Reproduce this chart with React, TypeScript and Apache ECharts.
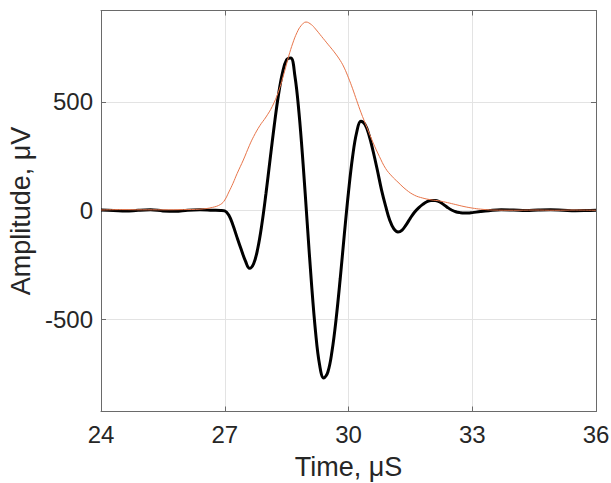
import React, { useEffect, useRef } from "react";
import * as echarts from "echarts";

const blackT = [24, 24.3, 24.6, 24.9, 25.2, 25.5, 25.8, 26.1, 26.4, 26.7, 26.9, 27.0, 27.1, 27.2, 27.3, 27.4, 27.5, 27.6, 27.7, 27.8, 27.9, 28.0, 28.1, 28.2, 28.3, 28.4, 28.5, 28.6, 28.7, 28.8, 28.9, 29.0, 29.1, 29.2, 29.3, 29.4, 29.5, 29.6, 29.7, 29.8, 29.9, 30.0, 30.1, 30.2, 30.3, 30.4, 30.5, 30.6, 30.7, 30.8, 30.9, 31.0, 31.1, 31.2, 31.3, 31.4, 31.5, 31.6, 31.7, 31.8, 31.9, 32.0, 32.1, 32.2, 32.3, 32.4, 32.5, 32.6, 32.7, 32.8, 32.9, 33.0, 33.2, 33.4, 33.7, 34.0, 34.3, 34.6, 34.9, 35.2, 35.5, 35.8, 36.0];
const blackV = [2, 0, -3, 1, 3, -2, -4, 1, 3, 1, 0, -2, -22, -68, -125, -180, -232, -266, -245, -175, -63, 79, 236, 391, 529, 633, 693, 701, 620, 449, 212, -60, -329, -556, -711, -771, -743, -648, -499, -312, -108, 85, 248, 361, 410, 395, 345, 270, 185, 95, 20, -45, -85, -99, -90, -65, -35, -8, 12, 28, 40, 46, 46, 40, 28, 14, 2, -6, -10, -12, -12, -10, -5, -1, 3, 2, 0, 2, 3, 1, -1, 0, 1];

const orangeT = [24.0, 24.5, 25.0, 25.5, 26.0, 26.4, 26.7, 26.9, 27.0, 27.1, 27.2, 27.3, 27.45, 27.6, 27.7, 27.85, 28.0, 28.15, 28.3, 28.45, 28.55, 28.65, 28.75, 28.85, 28.97, 29.1, 29.2, 29.35, 29.5, 29.65, 29.8, 29.9, 30.0, 30.1, 30.2, 30.3, 30.45, 30.6, 30.75, 30.9, 31.05, 31.2, 31.4, 31.6, 31.8, 32.0, 32.2, 32.4, 32.6, 32.8, 33.0, 33.2, 33.5, 34.0, 34.5, 35.0, 35.5, 36.0];
const orangeV = [2, 4, 3, 3, 4, 6, 14, 28, 48, 85, 125, 170, 232, 300, 340, 390, 430, 478, 545, 640, 710, 770, 818, 850, 867, 855, 835, 800, 765, 730, 690, 655, 610, 560, 505, 452, 380, 310, 248, 193, 158, 130, 95, 70, 57, 49, 44, 36, 27, 18, 11, 6, 2, 1, 2, 1, 2, 1];

const xTicks = [24, 27, 30, 33, 36];
const yTicks = [-500, 0, 500];

const textColor = "#262626";
const frameColor = "#6a6a6a";
const gridColor = "#e3e3e3";

export default function App() {
  const ref = useRef<HTMLDivElement>(null);
  useEffect(() => {
    if (!ref.current) return;
    const chart = echarts.init(ref.current, null, { renderer: "svg" });
    const font = "Liberation Sans, Arial, sans-serif";
    chart.setOption({
      animation: false,
      backgroundColor: "#ffffff",
      grid: { left: 101, right: 15, top: 10.5, bottom: 71.5, containLabel: false, outerBoundsMode: "none" },
      xAxis: [
        {
          type: "value",
          min: xTicks[0],
          max: xTicks[xTicks.length - 1],
          interval: 3,
          name: "Time, μS",
          nameLocation: "middle",
          nameGap: 42,
          nameTextStyle: { fontSize: 27, color: textColor, fontFamily: font },
          axisLine: { show: true, onZero: false, lineStyle: { color: frameColor, width: 1 } },
          axisTick: { show: true, inside: true, length: 5, lineStyle: { color: frameColor } },
          axisLabel: { fontSize: 24, color: textColor, fontFamily: font, margin: 11 },
          splitLine: { show: true, lineStyle: { color: gridColor, width: 1 } },
        },
        {
          type: "value",
          position: "top",
          min: xTicks[0],
          max: xTicks[xTicks.length - 1],
          interval: 3,
          axisLine: { show: true, onZero: false, lineStyle: { color: frameColor, width: 1 } },
          axisTick: { show: true, inside: true, length: 5, lineStyle: { color: frameColor } },
          axisLabel: { show: false },
          splitLine: { show: false },
        },
      ],
      yAxis: [
        {
          type: "value",
          min: -925,
          max: 920,
          name: "Amplitude, μV",
          nameLocation: "middle",
          nameGap: 64,
          nameTextStyle: { fontSize: 27, color: textColor, fontFamily: font },
          axisLine: { show: true, onZero: false, lineStyle: { color: frameColor, width: 1 } },
          axisTick: { show: true, inside: true, length: 5, customValues: yTicks, lineStyle: { color: frameColor } },
          axisLabel: { fontSize: 24, color: textColor, fontFamily: font, margin: 8, customValues: yTicks },
          splitLine: { show: true, customValues: yTicks, lineStyle: { color: gridColor, width: 1 } },
        },
        {
          type: "value",
          position: "right",
          min: -925,
          max: 920,
          axisLine: { show: true, onZero: false, lineStyle: { color: frameColor, width: 1 } },
          axisTick: { show: true, inside: true, length: 5, customValues: yTicks, lineStyle: { color: frameColor } },
          axisLabel: { show: false },
          splitLine: { show: false },
        },
      ],
      series: [
        {
          type: "line",
          data: blackT.map((t, i) => [t, blackV[i]]),
          showSymbol: false,
          smooth: 0.4,
          lineStyle: { color: "#000000", width: 3 },
          z: 2,
        },
        {
          type: "line",
          data: orangeT.map((t, i) => [t, orangeV[i]]),
          showSymbol: false,
          smooth: 0.4,
          lineStyle: { color: "#E8754A", width: 1 },
          z: 3,
        },
      ],
    });
    return () => chart.dispose();
  }, []);
  return <div ref={ref} style={{ width: 611, height: 483, position: "absolute", left: 0, top: 0 }} />;
}
